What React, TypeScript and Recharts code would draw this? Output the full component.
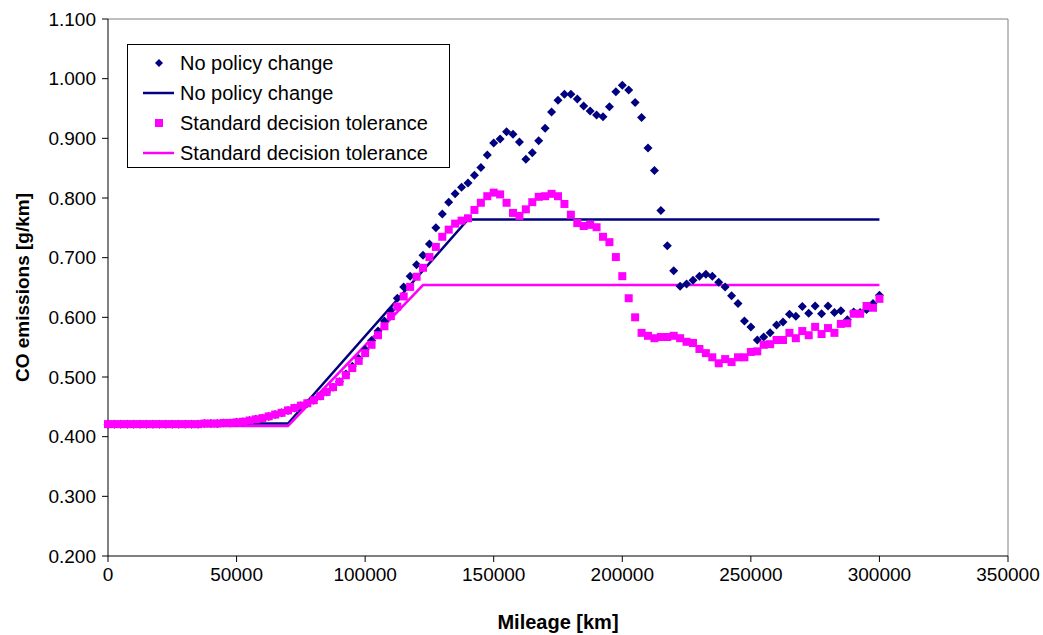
import {
  ComposedChart,
  Legend,
  Line,
  ReferenceLine,
  Scatter,
  XAxis,
  YAxis,
} from "recharts";

const STEP_KM = 2500;

// CO emissions per 2500 km step, 0 .. 300000 km
const noPolicyCo = [
  0.421, 0.421, 0.421, 0.421, 0.421, 0.421, 0.421, 0.421, 0.421, 0.421,
  0.421, 0.421, 0.421, 0.421, 0.421, 0.422, 0.422, 0.422, 0.423, 0.423,
  0.424, 0.425, 0.427, 0.429, 0.431, 0.434, 0.437, 0.44, 0.444, 0.448,
  0.452, 0.456, 0.461, 0.468, 0.475, 0.483, 0.492, 0.505, 0.518, 0.531,
  0.546, 0.561, 0.577, 0.594, 0.612, 0.632, 0.651, 0.669, 0.688, 0.704,
  0.723, 0.75, 0.773, 0.793, 0.807, 0.818, 0.825, 0.838, 0.851, 0.872,
  0.892, 0.899, 0.911, 0.907, 0.894, 0.865, 0.876, 0.896, 0.917, 0.944,
  0.964, 0.974, 0.974, 0.966, 0.954, 0.946, 0.939, 0.936, 0.953, 0.978,
  0.989, 0.981, 0.96, 0.935, 0.884, 0.846, 0.779, 0.72, 0.678, 0.652,
  0.656, 0.662, 0.669, 0.672, 0.669, 0.659, 0.651, 0.636, 0.623, 0.594,
  0.584, 0.562, 0.567, 0.574, 0.587, 0.592, 0.605, 0.602, 0.618, 0.607,
  0.619, 0.606, 0.619, 0.608, 0.611, 0.596, 0.609, 0.608, 0.613, 0.623,
  0.637,
];

const stdTolCo = [
  0.421, 0.421, 0.421, 0.421, 0.421, 0.421, 0.421, 0.421, 0.421, 0.421,
  0.421, 0.421, 0.421, 0.421, 0.421, 0.422, 0.422, 0.422, 0.423, 0.423,
  0.424, 0.425, 0.427, 0.429, 0.431, 0.434, 0.437, 0.44, 0.444, 0.448,
  0.452, 0.456, 0.461, 0.468, 0.475, 0.483, 0.492, 0.503, 0.515, 0.527,
  0.54, 0.554, 0.57, 0.585, 0.602, 0.618, 0.635, 0.651, 0.668, 0.683,
  0.701, 0.718, 0.735, 0.747, 0.757, 0.762, 0.766, 0.78, 0.792, 0.803,
  0.809, 0.806, 0.792, 0.775, 0.77, 0.781, 0.793, 0.802, 0.803, 0.807,
  0.803, 0.79, 0.772, 0.758, 0.753, 0.755, 0.751, 0.735, 0.726, 0.701,
  0.669, 0.632, 0.6, 0.574, 0.569, 0.565, 0.567, 0.567, 0.569, 0.565,
  0.559, 0.557, 0.547, 0.54, 0.533, 0.523, 0.53, 0.525, 0.533, 0.533,
  0.542, 0.543, 0.554, 0.555, 0.562, 0.562, 0.574, 0.565, 0.577, 0.57,
  0.584, 0.572, 0.582, 0.574, 0.589, 0.59, 0.606, 0.606, 0.619, 0.616,
  0.631,
];

// model lines, defined at their break points
const noPolicyLineKm = [0, 70000, 140000, 300000];
const noPolicyLineCo = [0.422, 0.422, 0.764, 0.764];
const stdTolLineKm = [0, 70000, 122500, 300000];
const stdTolLineCo = [0.418, 0.418, 0.654, 0.654];

const xTicks = [0, 50000, 100000, 150000, 200000, 250000, 300000, 350000];
const yTicks = [0.2, 0.3, 0.4, 0.5, 0.6, 0.7, 0.8, 0.9, 1.0, 1.1];

const NAVY = "#000080";
const MAGENTA = "#ff00ff";
const FONT = '"Liberation Sans", Arial, sans-serif';

const noPolicyPts = noPolicyCo.map((co, i) => ({ km: i * STEP_KM, co }));
const stdTolPts = stdTolCo.map((co, i) => ({ km: i * STEP_KM, co }));
const noPolicyLine = noPolicyLineKm.map((km, i) => ({ km, co: noPolicyLineCo[i] }));
const stdTolLine = stdTolLineKm.map((km, i) => ({ km, co: stdTolLineCo[i] }));

const Diamond = (props: any) => {
  const { cx, cy } = props;
  const r = 4.5;
  return (
    <polygon
      points={`${cx},${cy - r} ${cx + r},${cy} ${cx},${cy + r} ${cx - r},${cy}`}
      fill={NAVY}
    />
  );
};

const Square = (props: any) => {
  const { cx, cy } = props;
  return <rect x={cx - 4} y={cy - 4} width={8} height={8} fill={MAGENTA} />;
};

const legendRows = [
  { label: "No policy change", kind: "diamond", color: NAVY },
  { label: "No policy change", kind: "line", color: NAVY },
  { label: "Standard decision tolerance", kind: "square", color: MAGENTA },
  { label: "Standard decision tolerance", kind: "line", color: MAGENTA },
];

const LegendBox = () => (
  <div
    style={{
      boxSizing: "border-box",
      width: 323,
      height: 124,
      border: "1px solid #000",
      background: "#fff",
      paddingTop: 3,
      fontFamily: FONT,
      fontSize: 20,
      color: "#000",
    }}
  >
    {legendRows.map((row, i) => (
      <div key={i} style={{ height: 30, display: "flex", alignItems: "center" }}>
        <svg width={52} height={30} style={{ flex: "none" }}>
          {row.kind === "line" && (
            <line x1={15} x2={46} y1={15} y2={15} stroke={row.color} strokeWidth={2.5} />
          )}
          {row.kind === "diamond" && (
            <polygon points="31,11 35,15 31,19 27,15" fill={row.color} />
          )}
          {row.kind === "square" && <rect x={27} y={11} width={8} height={8} fill={row.color} />}
        </svg>
        <span style={{ whiteSpace: "nowrap" }}>{row.label}</span>
      </div>
    ))}
  </div>
);

export default function App() {
  return (
    <div style={{ position: "absolute", left: 0, top: 0, fontFamily: FONT }}>
      <ComposedChart
        width={1043}
        height={635}
        margin={{ top: 19, right: 35, bottom: 0, left: 8 }}
      >
        <XAxis
          type="number"
          dataKey="km"
          domain={[0, 350000]}
          ticks={xTicks}
          interval={0}
          height={79}
          stroke="#000"
          tickSize={6}
          tickMargin={6}
          tick={{ fill: "#000", fontSize: 19, fontFamily: FONT }}
          label={{
            value: "Mileage [km]",
            position: "insideBottom",
            offset: 6,
            fill: "#000",
            fontSize: 20,
            fontWeight: "bold",
            fontFamily: FONT,
          }}
        />
        <YAxis
          type="number"
          domain={[0.2, 1.1]}
          ticks={yTicks}
          interval={0}
          width={100}
          stroke="#000"
          tickSize={6}
          tickMargin={6}
          tickFormatter={(v: number) => v.toFixed(3)}
          tick={{ fill: "#000", fontSize: 19, fontFamily: FONT }}
          label={{
            value: "CO emissions [g/km]",
            angle: -90,
            position: "insideLeft",
            offset: 14,
            fill: "#000",
            fontSize: 19,
            fontWeight: "bold",
            fontFamily: FONT,
            style: { textAnchor: "middle" },
          }}
        />
        <ReferenceLine y={1.1} stroke="#808080" strokeWidth={1} />
        <ReferenceLine x={350000} stroke="#808080" strokeWidth={1} />
        <Legend
          layout="vertical"
          align="center"
          verticalAlign="middle"
          content={() => <LegendBox />}
          wrapperStyle={{ left: 127, top: 44, width: 323, height: 124 }}
        />
        <Line
          data={noPolicyLine}
          dataKey="co"
          type="linear"
          stroke={NAVY}
          strokeWidth={2.5}
          dot={false}
          activeDot={false}
          isAnimationActive={false}
          name="No policy change"
        />
        <Line
          data={stdTolLine}
          dataKey="co"
          type="linear"
          stroke={MAGENTA}
          strokeWidth={2.5}
          dot={false}
          activeDot={false}
          isAnimationActive={false}
          name="Standard decision tolerance"
        />
        <Scatter
          data={noPolicyPts}
          dataKey="co"
          shape={Diamond}
          isAnimationActive={false}
          name="No policy change"
        />
        <Scatter
          data={stdTolPts}
          dataKey="co"
          shape={Square}
          isAnimationActive={false}
          name="Standard decision tolerance"
        />
      </ComposedChart>
    </div>
  );
}
